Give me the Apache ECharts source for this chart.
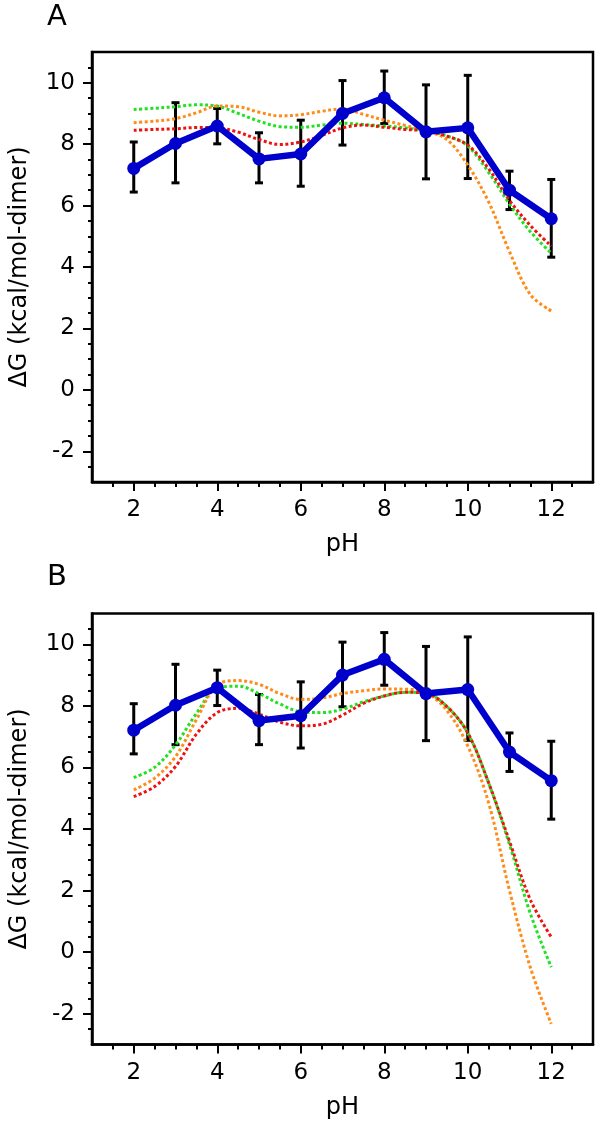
<!DOCTYPE html>
<html>
<head>
<meta charset="utf-8">
<script src="https://cdn.jsdelivr.net/npm/echarts@6/dist/echarts.min.js"></script>
<style>
html,body{margin:0;padding:0;background:#fff;}
#chart{width:600px;height:1128px;}
</style>
</head>
<body>
<div id="chart"></div>
<script>
// ---- data ----
const panelLabels = ['A', 'B'];
const xTitle = 'pH';
const yTitle = 'ΔG (kcal/mol-dimer)';
const xTickValues = [2, 4, 6, 8, 10, 12];
const yTickValues = [-2, 0, 2, 4, 6, 8, 10];

const phMeasured = [2, 3, 4, 5, 6, 7, 8, 9, 10, 11, 12];
const dGMeasured = [7.21, 8.02, 8.59, 7.52, 7.68, 9.00, 9.51, 8.40, 8.53, 6.50, 5.57];
const dGUpper    = [8.07, 9.35, 9.16, 8.37, 8.78, 10.07, 10.38, 9.93, 10.24, 7.12, 6.85];
const dGLower    = [6.44, 6.74, 8.01, 6.74, 6.63, 7.97, 8.67, 6.87, 6.88, 5.87, 4.32];

const phCurve = [2, 2.5, 3, 3.5, 4, 4.5, 5, 5.5, 6, 6.5, 7, 7.5, 8, 8.5, 9, 9.5, 10, 10.5, 11, 11.5, 12];

// Panel A model curves
const greenA  = [9.13, 9.17, 9.22, 9.28, 9.24, 9.00, 8.75, 8.57, 8.55, 8.62, 8.68, 8.64, 8.59, 8.53, 8.43, 8.27, 7.94, 7.08, 6.05, 5.15, 4.45];
const orangeA = [8.70, 8.75, 8.83, 9.02, 9.24, 9.22, 9.04, 8.92, 8.96, 9.07, 9.15, 8.97, 8.78, 8.61, 8.43, 8.15, 7.32, 6.12, 4.50, 3.10, 2.57];
const redA    = [8.45, 8.48, 8.50, 8.54, 8.53, 8.39, 8.15, 7.99, 8.07, 8.28, 8.53, 8.62, 8.55, 8.48, 8.43, 8.26, 7.97, 7.20, 6.17, 5.35, 4.68];

// Panel B model curves
const greenB  = [5.67, 6.00, 6.73, 7.75, 8.58, 8.64, 8.40, 8.06, 7.81, 7.78, 7.89, 8.13, 8.32, 8.44, 8.41, 7.98, 7.12, 5.50, 3.50, 1.25, -0.49];
const orangeB = [5.27, 5.65, 6.35, 7.55, 8.68, 8.82, 8.70, 8.40, 8.21, 8.25, 8.40, 8.49, 8.55, 8.54, 8.43, 7.85, 6.70, 4.85, 2.00, -0.50, -2.33];
const redB    = [5.05, 5.38, 6.03, 7.08, 7.78, 7.92, 7.73, 7.47, 7.35, 7.40, 7.70, 8.08, 8.32, 8.44, 8.41, 7.98, 7.12, 5.50, 3.60, 1.70, 0.49];

// ---- styles ----
const FONT = 'DejaVu Sans';
const COLORS = { blue: '#0000cc', green: '#22e022', orange: '#ff8c1a', red: '#ee1111' };
const grids = [
  { left: 89, right: 7, top: 52, height: 430 },
  { left: 89, right: 7, top: 613.5, height: 431 }
];

function pairs(xs, ys) { return xs.map((x, i) => [x, ys[i]]); }

const xAxes = [], yAxes = [], series = [];
const curveSets = [
  [greenA, orangeA, redA],
  [greenB, orangeB, redB]
];

grids.forEach((g, gi) => {
  xAxes.push({
    type: 'value', gridIndex: gi, min: 1, max: 13, splitNumber: 6,
    name: xTitle, nameLocation: 'middle', nameGap: 51,
    nameTextStyle: { fontFamily: FONT, fontSize: 24, color: '#000' },
    axisLine: { show: true, onZero: false, lineStyle: { color: '#000', width: 2.5 } },
    axisTick: { show: true, length: 9, customValues: xTickValues, lineStyle: { color: '#000', width: 2 } },
    minorTick: { show: true, splitNumber: 4, length: 5, lineStyle: { color: '#000', width: 2 } },
    axisLabel: { fontFamily: FONT, fontSize: 23, color: '#000', margin: 17, customValues: xTickValues, showMinLabel: true, showMaxLabel: true },
    splitLine: { show: false }
  });
  yAxes.push({
    type: 'value', gridIndex: gi, min: -3, max: 11, splitNumber: 7,
    name: yTitle, nameLocation: 'middle', nameGap: 60, nameRotate: 90,
    nameTextStyle: { fontFamily: FONT, fontSize: 24, color: '#000' },
    axisLine: { show: true, onZero: false, lineStyle: { color: '#000', width: 2.5 } },
    axisTick: { show: true, length: 9, customValues: yTickValues, lineStyle: { color: '#000', width: 2 } },
    minorTick: { show: true, splitNumber: 4, length: 4, lineStyle: { color: '#000', width: 2 } },
    axisLabel: { fontFamily: FONT, fontSize: 23, color: '#000', margin: 17, customValues: yTickValues, showMinLabel: true, showMaxLabel: true },
    splitLine: { show: false }
  });

  // error bars
  series.push({
    type: 'custom', xAxisIndex: gi, yAxisIndex: gi, z: 2,
    data: phMeasured.map((x, i) => [x, dGLower[i], dGUpper[i]]),
    encode: { x: 0, y: [1, 2] },
    renderItem: function (params, api) {
      const x = api.value(0);
      const pLo = api.coord([x, api.value(1)]);
      const pHi = api.coord([x, api.value(2)]);
      const cw = 4;
      const st = { stroke: '#000', lineWidth: 3 };
      return {
        type: 'group', children: [
          { type: 'line', shape: { x1: pHi[0], y1: pHi[1], x2: pLo[0], y2: pLo[1] }, style: st },
          { type: 'line', shape: { x1: pHi[0] - cw, y1: pHi[1], x2: pHi[0] + cw, y2: pHi[1] }, style: st },
          { type: 'line', shape: { x1: pLo[0] - cw, y1: pLo[1], x2: pLo[0] + cw, y2: pLo[1] }, style: st }
        ]
      };
    }
  });

  const [gc, oc, rc] = curveSets[gi];
  [[gc, COLORS.green], [oc, COLORS.orange], [rc, COLORS.red]].forEach(([vals, col], k) => {
    series.push({
      type: 'line', xAxisIndex: gi, yAxisIndex: gi, z: 3 + k,
      data: pairs(phCurve, vals), showSymbol: false, smooth: 0.35,
      lineStyle: { color: col, width: 3, type: [3, 2.5], cap: 'butt' }
    });
  });

  series.push({
    type: 'line', xAxisIndex: gi, yAxisIndex: gi, z: 10,
    data: pairs(phMeasured, dGMeasured),
    symbol: 'circle', symbolSize: 13, showSymbol: true,
    itemStyle: { color: COLORS.blue },
    lineStyle: { color: COLORS.blue, width: 6.5 }
  });
});

const chart = echarts.init(document.getElementById('chart'), null, { renderer: 'canvas' });
chart.setOption({
  animation: false,
  backgroundColor: '#fff',
  grid: grids.map(g => Object.assign({ show: true, borderColor: '#000', borderWidth: 2.5, backgroundColor: 'transparent' }, g)),
  xAxis: xAxes,
  yAxis: yAxes,
  graphic: [
    { type: 'text', left: 47, top: 3, style: { text: panelLabels[0], fontFamily: FONT, fontSize: 29, fill: '#000' } },
    { type: 'text', left: 47, top: 563, style: { text: panelLabels[1], fontFamily: FONT, fontSize: 29, fill: '#000' } }
  ],
  series: series
});
</script>
</body>
</html>
